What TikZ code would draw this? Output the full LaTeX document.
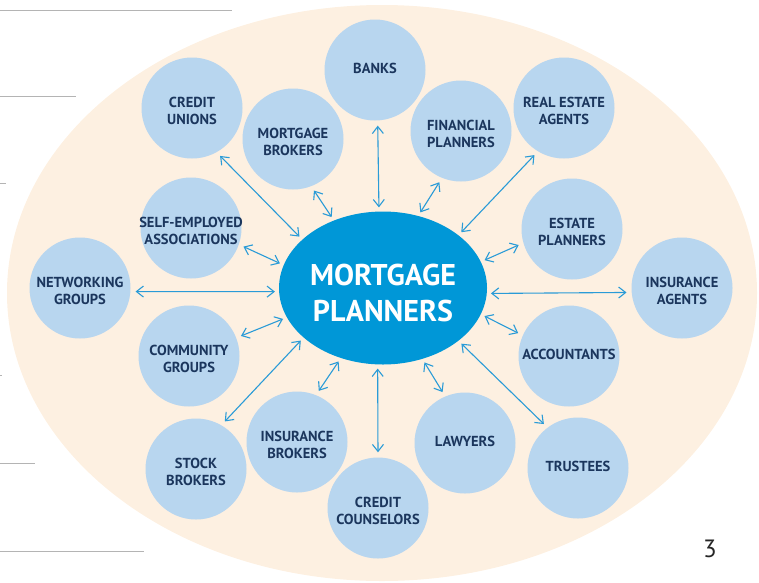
\documentclass[tikz,border=0pt]{standalone}
\usepackage{fontspec}
\setmainfont{PT Sans}
\usepackage{tikz}
\usetikzlibrary{shapes.geometric}
\usetikzlibrary{arrows.meta}

\definecolor{cream}{HTML}{FDF0E1}
\definecolor{paleblue}{HTML}{B8D6EF}
\definecolor{hubblue}{HTML}{0097D7}
\definecolor{navy}{HTML}{1B365D}
\definecolor{linkblue}{HTML}{2A9BD7}
\definecolor{rulegray}{HTML}{B4B4B4}

\tikzset{
  partner/.style = {circle, fill = paleblue, minimum size = 101pt, inner sep = 0pt},
  ptext/.style = {align = center, text = navy, yshift = -2.5pt, font = \fontsize{14.5}{17}\selectfont\bfseries},
  pword/.style = {text = navy, yshift = 2pt, font = \fontsize{14.5}{17}\selectfont\bfseries},
  hub/.style = {ellipse, fill = hubblue, minimum width = 208pt, minimum height = 153pt, inner sep = 0pt},
  hubtext/.style = {align = center, text = white, yshift = -5pt, font = \fontsize{30}{36}\selectfont\bfseries},
  link/.style = {linkblue, line width = 1.1pt, {Straight Barb[length=7pt,width=11pt]}-{Straight Barb[length=7pt,width=11pt]}, shorten <= 4pt, shorten >= 5pt},
  margin/.style = {rulegray, line width = 1pt}
}

\begin{document}
\begin{tikzpicture}[x = 1pt, y = -1pt]
                \useasboundingbox (0,0) rectangle (759,582);
                \fill[cream] (382,293) ellipse (375pt and 288pt);
                \draw[margin] (0,10) -- (232,10);
                \draw[margin] (0,96) -- (76,96);
                \draw[margin] (0,183) -- (6,183);
                \draw[margin] (0,375) -- (2,375);
                \draw[margin] (0,463) -- (35,463);
                \draw[margin] (0,551) -- (144,551);

                \node[hub, label = {[hubtext]center:MORTGAGE\\PLANNERS}] (mp) at (383,288) {};

                \node[partner, label = {[pword]center:BANKS}] (banks) at (375,70) {};
                \node[partner, label = {[ptext]center:CREDIT\\UNIONS}] (cu) at (192,108) {};
                \node[partner, label = {[ptext]center:MORTGAGE\\BROKERS}] (mb) at (293,139) {};
                \node[partner, label = {[ptext]center:FINANCIAL\\PLANNERS}] (fp) at (461,131) {};
                \node[partner, label = {[ptext]center:REAL ESTATE\\AGENTS}] (rea) at (564,108) {};
                \node[partner, label = {[ptext]center:SELF-EMPLOYED\\ASSOCIATIONS}] (sea) at (191,228) {};
                \node[partner, label = {[ptext]center:ESTATE\\PLANNERS}] (ep) at (572,229) {};
                \node[partner, label = {[ptext]center:NETWORKING\\GROUPS}] (ng) at (80,288) {};
                \node[partner, label = {[ptext]center:INSURANCE\\AGENTS}] (ia) at (682,288) {};
                \node[partner, label = {[ptext]center:COMMUNITY\\GROUPS}] (cg) at (189,356) {};
                \node[partner, label = {[pword]center:ACCOUNTANTS}] (acc) at (569,356) {};
                \node[partner, label = {[ptext]center:INSURANCE\\BROKERS}] (ib) at (297,442) {};
                \node[partner, label = {[pword]center:LAWYERS}] (law) at (465,443) {};
                \node[partner, label = {[ptext]center:STOCK\\BROKERS}] (sb) at (196,469) {};
                \node[partner, label = {[pword]center:TRUSTEES}] (tru) at (578,468) {};
                \node[partner, label = {[ptext]center:CREDIT\\COUNSELORS}] (cc) at (378,508) {};

                % hub anchor / partner anchor, both as border angles
                \foreach \p/\a/\b in {banks/93/273, cu/149/299, mb/126/291, fp/64/248, rea/35/239,
                                      sea/167/341, ng/182/356, cg/197/21, sb/212/60, ib/239/68,
                                      cc/266/90, law/299/113, tru/325/127, acc/345/156, ia/357/185, ep/15/196}
                  \draw[link] (mp.\a) -- (\p.\b);

                \node[text = black!85, font = \fontsize{25}{30}\selectfont] (page) at (710,549) {3};
              \end{tikzpicture}
\end{document}
